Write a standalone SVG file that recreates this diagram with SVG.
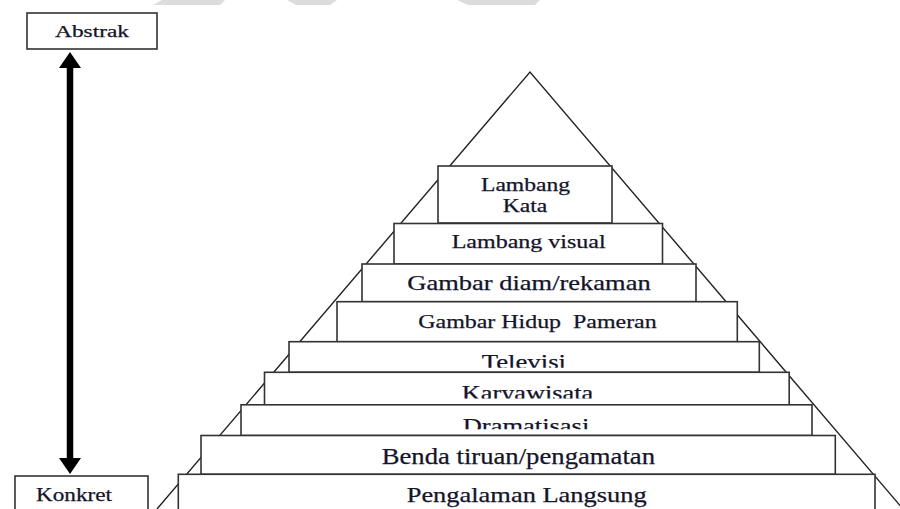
<svg xmlns="http://www.w3.org/2000/svg" width="900" height="509" viewBox="0 0 900 509">
  <style>
    .box { fill: #ffffff; stroke: #333333; stroke-width: 1.6; }
    .lbl { font-family: "Liberation Serif", "Times New Roman", serif; fill: #14142a; stroke: #14142a; stroke-width: 0.25; }
    .edge { stroke: #222222; stroke-width: 1.4; fill: none; }
    .wm { fill: #dcdcdc; }
  </style>
  <defs>
    <marker id="head" viewBox="0 -11 16 22" markerUnits="userSpaceOnUse" markerWidth="16" markerHeight="22" refX="4" refY="0" orient="auto-start-reverse">
      <path d="M0,-11 L16,0 L0,11 z" fill="#000000"/>
    </marker>
    <clipPath id="clipTv"><rect x="0" y="0" width="900" height="367.8"/></clipPath>
    <clipPath id="clipKw"><rect x="0" y="0" width="900" height="398.5"/></clipPath>
    <clipPath id="clipDr"><rect x="0" y="0" width="900" height="429.3"/></clipPath>
  </defs>
  <rect x="0" y="0" width="900" height="509" fill="#ffffff"/>

  <!-- faint watermark remnants -->
  <g id="watermark">
    <polygon class="wm" points="153,5 162,0 225,0 220,5"/>
    <polygon class="wm" points="287,0 337,0 330,5 296,5"/>
    <polygon class="wm" points="457,0 540,0 535,5 468,5"/>
  </g>

  <!-- pyramid outline -->
  <g id="pyramid">
    <polyline class="edge" points="157,509 530,72 903,509"/>
  </g>

  <g id="abstrak">
    <rect class="box" x="27" y="13" width="130" height="36"/>
    <text class="lbl" x="55" y="36.5" font-size="17.5" textLength="74" lengthAdjust="spacingAndGlyphs">Abstrak</text>
  </g>

  <g id="konkret">
    <rect class="box" x="15" y="476" width="133" height="50"/>
    <text class="lbl" x="36" y="500.5" font-size="18.5" textLength="76" lengthAdjust="spacingAndGlyphs">Konkret</text>
  </g>

  <g id="lambang-kata">
    <rect class="box" x="438" y="166" width="174" height="57"/>
    <text class="lbl" x="481" y="191" font-size="18" textLength="89" lengthAdjust="spacingAndGlyphs">Lambang</text>
    <text class="lbl" x="502.7" y="212" font-size="18" textLength="44.6" lengthAdjust="spacingAndGlyphs">Kata</text>
  </g>

  <g id="lambang-visual">
    <rect class="box" x="394" y="223.5" width="268.5" height="40.5"/>
    <text class="lbl" x="451.7" y="247.6" font-size="18" textLength="154" lengthAdjust="spacingAndGlyphs">Lambang visual</text>
  </g>

  <g id="gambar-diam">
    <rect class="box" x="362" y="264" width="334" height="37.7"/>
    <text class="lbl" x="407.3" y="289.6" font-size="21" textLength="243.4" lengthAdjust="spacingAndGlyphs">Gambar diam/rekaman</text>
  </g>

  <g id="gambar-hidup">
    <rect class="box" x="337" y="301.7" width="400.3" height="40"/>
    <text class="lbl" x="418.3" y="327.6" font-size="18.5" textLength="238.4" lengthAdjust="spacingAndGlyphs" xml:space="preserve">Gambar Hidup  Pameran</text>
  </g>

  <g id="televisi">
    <rect class="box" x="289" y="341.7" width="470.3" height="30.6"/>
    <text class="lbl" x="481.7" y="369" font-size="22" textLength="84.3" lengthAdjust="spacingAndGlyphs" clip-path="url(#clipTv)">Televisi</text>
  </g>

  <g id="karyawisata">
    <rect class="box" x="264.5" y="372.3" width="524.7" height="32.5"/>
    <text class="lbl" x="461.7" y="400" font-size="22" textLength="131.6" lengthAdjust="spacingAndGlyphs" clip-path="url(#clipKw)">Karyawisata</text>
  </g>

  <g id="dramatisasi">
    <rect class="box" x="241" y="404.8" width="571" height="30.7"/>
    <text class="lbl" x="462.7" y="432.5" font-size="22" textLength="126.6" lengthAdjust="spacingAndGlyphs" clip-path="url(#clipDr)">Dramatisasi</text>
  </g>

  <g id="benda-tiruan">
    <rect class="box" x="201" y="435.5" width="634.3" height="38.8"/>
    <text class="lbl" x="381.7" y="463.5" font-size="23" textLength="273.3" lengthAdjust="spacingAndGlyphs">Benda tiruan/pengamatan</text>
  </g>

  <g id="pengalaman-langsung">
    <rect class="box" x="178.3" y="474.3" width="696.7" height="50"/>
    <text class="lbl" x="406.7" y="502" font-size="22" textLength="240" lengthAdjust="spacingAndGlyphs">Pengalaman Langsung</text>
  </g>

  <g id="connectors">
    <line x1="70" y1="64" x2="70" y2="462" stroke="#000000" stroke-width="6.5" marker-start="url(#head)" marker-end="url(#head)"/>
  </g>
</svg>
